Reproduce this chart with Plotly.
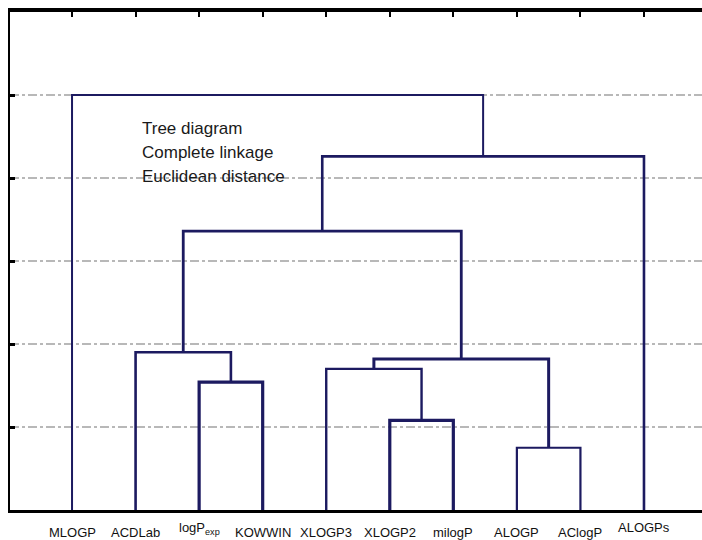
import plotly.graph_objects as go

# ---- data ----
leaf_labels = ["MLOGP", "ACDLab", "logP<sub>exp</sub>", "KOWWIN", "XLOGP3",
               "XLOGP2", "milogP", "ALOGP", "AClogP", "ALOGPs"]
# merges: (left cluster id, right cluster id, linkage distance); new ids start at 10
merge_left = [7, 5, 2, 4, 13, 1, 15, 16, 0]
merge_right = [8, 6, 3, 11, 10, 12, 14, 9, 17]
merge_height = [0.75, 1.08, 1.54, 1.70, 1.82, 1.90, 3.36, 4.26, 5.0]
y_ticks = [1, 2, 3, 4, 5]
info_lines = ["Tree diagram", "Complete linkage", "Euclidean distance"]

# ---- styles ----
link_color = "#1c1a60"
link_widths = [2.2, 3.2, 3.2, 2.4, 3.0, 2.6, 2.8, 2.6, 2.0]
label_yshift = {9: -17, 2: -18}

n = len(leaf_labels)
pos = {i: float(i) for i in range(n)}
hgt = {i: 0.0 for i in range(n)}

fig = go.Figure()
for k, (a, b, h) in enumerate(zip(merge_left, merge_right, merge_height)):
    xa, xb = pos[a], pos[b]
    fig.add_trace(go.Scatter(
        x=[xa, xa, xb, xb], y=[hgt[a], h, h, hgt[b]],
        mode="lines", line=dict(color=link_color, width=link_widths[k]),
        hoverinfo="skip", showlegend=False))
    cid = n + k
    pos[cid] = (xa + xb) / 2
    hgt[cid] = h

# invisible trace so the top axis is drawn
fig.add_trace(go.Scatter(x=[0], y=[0], xaxis="x2", mode="markers",
                         marker=dict(opacity=0, size=1), hoverinfo="skip", showlegend=False))

xr = [-0.976, 9.913]
fig.update_layout(
    width=702, height=540,
    margin=dict(l=10, r=0, t=12, b=30),
    paper_bgcolor="white", plot_bgcolor="white",
    xaxis=dict(range=xr, showgrid=False, zeroline=False, showline=True,
               linecolor="black", linewidth=2.5, ticks="", showticklabels=False),
    xaxis2=dict(range=xr, overlaying="x", side="top", showgrid=False, zeroline=False,
                showline=True, linecolor="black", linewidth=4,
                tickvals=list(range(n)), ticks="inside", ticklen=5, tickwidth=2,
                tickcolor="black", showticklabels=False),
    yaxis=dict(range=[0, 6], tickvals=y_ticks, showgrid=True, gridcolor="#b8b8b8",
               griddash="dashdot", gridwidth=2, zeroline=False, showline=True,
               linecolor="black", linewidth=2, ticks="inside", ticklen=5, tickwidth=3,
               tickcolor="black", showticklabels=False),
)

for i, lab in enumerate(leaf_labels):
    fig.add_annotation(x=i, xref="x", y=0, yref="paper", text=lab, showarrow=False,
                       yanchor="middle", yshift=label_yshift.get(i, -22),
                       font=dict(family="Arial, Liberation Sans", size=13, color="#111"))

for j, line in enumerate(info_lines):
    fig.add_annotation(x=(140 - 10) / 692, xref="paper",
                       y=(510 - (128 + 24 * j)) / 498, yref="paper", text=line,
                       showarrow=False, xanchor="left", yanchor="middle",
                       font=dict(family="Arial, Liberation Sans", size=17, color="#1a1a1a"))

fig.write_html("out.html", config={"displayModeBar": False},
               post_script="document.body.style.margin='0px';document.body.style.overflow='hidden';")
